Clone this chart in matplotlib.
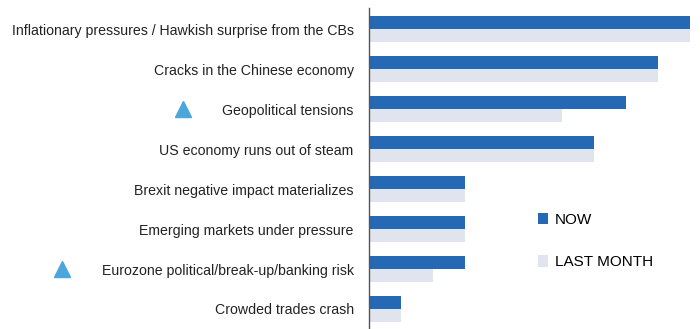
import numpy as np
import matplotlib.pyplot as plt
import matplotlib.transforms as mtransforms

plt.rcParams['font.family'] = ['Liberation Sans', 'DejaVu Sans']

categories = ["Inflationary pressures / Hawkish surprise from the CBs",
              "Cracks in the Chinese economy",
              "Geopolitical tensions",
              "US economy runs out of steam",
              "Brexit negative impact materializes",
              "Emerging markets under pressure",
              "Eurozone political/break-up/banking risk",
              "Crowded trades crash"]
now = [10, 9, 8, 7, 3, 3, 3, 1]
last_month = [10, 9, 6, 7, 3, 3, 2, 1]
rising = [2, 6]  # rows flagged with a triangle

fig = plt.figure(figsize=(7, 3.29), dpi=100)
ax = fig.add_axes([369 / 700, 0, (692 - 369) / 700, 1 - 8 / 329])

y = np.arange(len(categories))
h = 0.33
ax.barh(y - h / 2, now, height=h, color='#2569b5', label='NOW')
ax.barh(y + h / 2, last_month, height=h, color='#dfe4ee', label='LAST MONTH')

ax.set_xlim(0, 10.05)
ax.set_ylim(7.5, -0.525)
ax.set_yticks(y)
ax.set_yticklabels(categories, fontsize=10.2, color='#222222')
ax.tick_params(axis='y', length=0, pad=11)
ax.set_xticks([])
for s in ['top', 'right', 'bottom']:
    ax.spines[s].set_visible(False)
ax.spines['left'].set_color('#555555')
ax.spines['left'].set_linewidth(1.0)

trans = mtransforms.blended_transform_factory(fig.transFigure, ax.transData)
tri_x = {2: 183 / 700, 6: 62 / 700}
for r in rising:
    ax.plot(tri_x[r], r, marker='^', markersize=11, color='#4ba6dc',
            transform=trans, clip_on=False)

ax.legend(loc='upper left', bbox_to_anchor=(0.48, 0.405), frameon=False,
          fontsize=11, handlelength=0.7, handleheight=0.8,
          labelspacing=1.85, handletextpad=0.4)

fig.savefig('out.png', dpi=100)
